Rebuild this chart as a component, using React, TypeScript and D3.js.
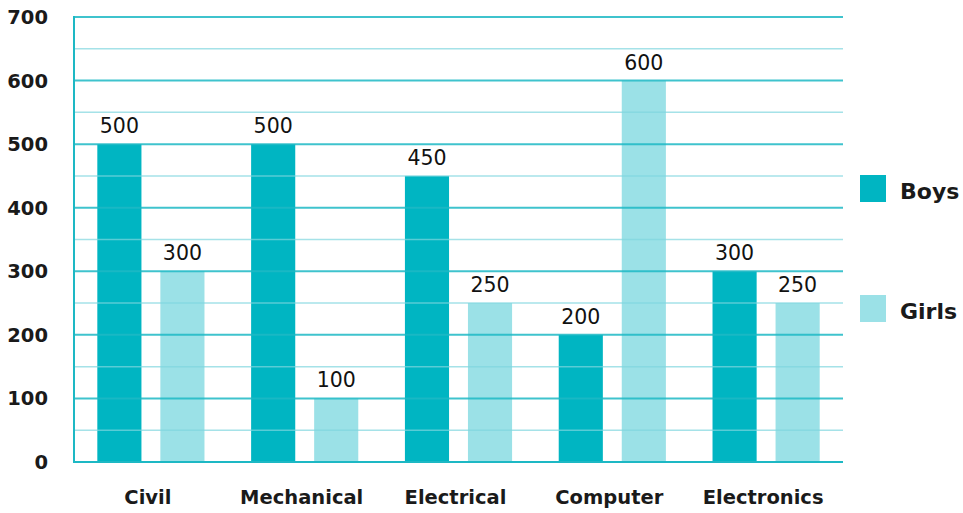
import * as d3 from "d3";

const categories = ["Civil", "Mechanical", "Electrical", "Computer", "Electronics"];
const seriesNames = ["Boys", "Girls"];
const boys = [500, 500, 450, 200, 300];
const girls = [300, 100, 250, 600, 250];
const yTicks = [0, 100, 200, 300, 400, 500, 600, 700];

const colors: Record<string, string> = { Boys: "#00b5c2", Girls: "#9be1e7" };

const W = 963;
const H = 513;
const left = 74;
const right = 843;
const top = 17;
const bottom = 462;
const font = "'DejaVu Sans', sans-serif";

export default function App() {
  const x = d3.scaleBand<string>().domain(categories).range([left, right]);
  const xs = d3
    .scaleBand<string>()
    .domain(seriesNames)
    .range([0, x.bandwidth()])
    .paddingInner(0.3)
    .paddingOuter(0.37);
  const y = d3.scaleLinear().domain([0, 700]).range([bottom, top]);
  const minor = d3.range(50, 700, 100);

  const rows = categories.map((c, i) => ({ cat: c, Boys: boys[i], Girls: girls[i] }));

  return (
    <svg
      width={W}
      height={H}
      style={{ position: "absolute", left: 0, top: 0, background: "#fff" }}
    >
      {rows.map((r) =>
        seriesNames.map((s) => {
          const v = (r as any)[s] as number;
          const bx = (x(r.cat) ?? 0) + (xs(s) ?? 0);
          return (
            <g key={r.cat + s}>
              <rect
                x={bx}
                y={y(v)}
                width={xs.bandwidth()}
                height={bottom - y(v)}
                fill={colors[s]}
              />
              <text
                x={bx + xs.bandwidth() / 2}
                y={y(v) - 11}
                textAnchor="middle"
                fontFamily={font}
                fontSize={20.5}
                fill="#111"
              >
                {v}
              </text>
            </g>
          );
        })
      )}
      {minor.map((t) => (
        <line
          key={"m" + t}
          x1={left}
          x2={right}
          y1={y(t)}
          y2={y(t)}
          stroke="#7fd6de"
          strokeOpacity={0.7}
          strokeWidth={1.5}
        />
      ))}
      {yTicks.map((t) => (
        <g key={t}>
          <line
            x1={left}
            x2={right}
            y1={y(t)}
            y2={y(t)}
            stroke="#1db8c4"
            strokeOpacity={t === 0 ? 1 : 0.85}
            strokeWidth={2}
          />
          <text
            x={48}
            y={y(t)}
            dy="0.36em"
            textAnchor="end"
            fontFamily={font}
            fontWeight="bold"
            fontSize={19.5}
            fill="#1a1a1a"
          >
            {t}
          </text>
        </g>
      ))}
      <line x1={left} x2={left} y1={top - 1} y2={bottom + 1} stroke="#1db8c4" strokeWidth={2} />
      {categories.map((c) => (
        <text
          key={c}
          x={(x(c) ?? 0) + x.bandwidth() / 2 - 3}
          y={504}
          textAnchor="middle"
          fontFamily={font}
          fontWeight="bold"
          fontSize={19.5}
          fill="#1a1a1a"
        >
          {c}
        </text>
      ))}
      {seriesNames.map((s, i) => (
        <g key={s} transform={`translate(860, ${175 + i * 120})`}>
          <rect width={26} height={27} fill={colors[s]} />
          <text
            x={40}
            y={24}
            fontFamily={font}
            fontWeight="bold"
            fontSize={22}
            fill="#1a1a1a"
          >
            {s}
          </text>
        </g>
      ))}
    </svg>
  );
}
